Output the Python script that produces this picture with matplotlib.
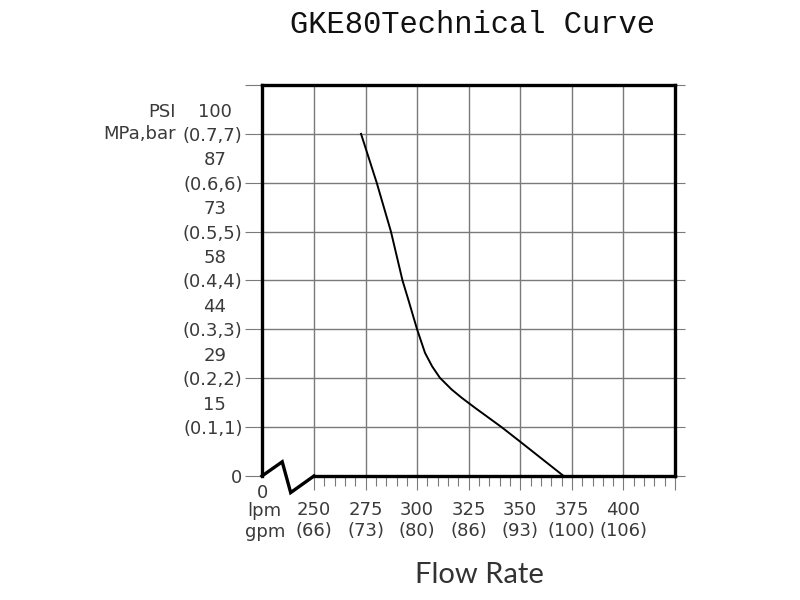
import matplotlib.pyplot as plt
from matplotlib.ticker import FixedLocator

# curve (lpm, bar)
flow_lpm = [272.8, 280.4, 287.3, 292.9, 295.7, 299.9, 303.8, 307.3, 311.0, 316.7, 321.6, 328.2, 340.9, 350.0, 371.0]
pressure_bar = [7.0, 6.0, 5.0, 4.0, 3.61, 3.01, 2.52, 2.24, 2.01, 1.77, 1.60, 1.39, 1.0, 0.70, 0.0]

# axis labels
x_ticks = [250, 275, 300, 325, 350, 375, 400]
gpm_labels = ['66', '73', '80', '86', '93', '100', '106']
y_ticks = [0, 1, 2, 3, 4, 5, 6, 7]
bar_labels = ['0', '(0.1,1)', '(0.2,2)', '(0.3,3)', '(0.4,4)', '(0.5,5)', '(0.6,6)', '(0.7,7)']
psi_labels = ['', '15', '29', '44', '58', '73', '87', '100']

x_left, x_right = 224.8, 425
break_x = [224.8, 234.6, 238.7, 250]
break_y = [0, 0.29, -0.34, 0]

txt = '#3a3a3a'
grid_c = '#7a7a7a'

fig = plt.figure(figsize=(8, 6), dpi=100)
ax = fig.add_axes([0.3275, 0.2067, 0.5163, 0.6517])
ax.set_xlim(x_left, x_right)
ax.set_ylim(0, 8)

# grid
for x in x_ticks + [425]:
    ax.plot([x, x], [0, 8], color=grid_c, lw=1.0, zorder=1)
for y in range(1, 9):
    ax.plot([x_left, x_right], [y, y], color=grid_c, lw=1.0, zorder=1)

# curve
ax.plot(flow_lpm, pressure_bar, color='black', lw=1.4, zorder=3)

# frame with broken x axis
for s in ['left', 'right', 'top', 'bottom']:
    ax.spines[s].set_linewidth(2.4)
    ax.spines[s].set_zorder(4)
ax.spines['bottom'].set_bounds(250, 425)
ax.plot(break_x, break_y, color='black', lw=2.4, clip_on=False,
        solid_joinstyle='miter', zorder=4)

# ticks
ax.set_xticks(x_ticks + [425])
ax.set_xticklabels([f'{a}\n({b})' for a, b in zip(x_ticks, gpm_labels)] + [''])
ax.xaxis.set_minor_locator(FixedLocator(list(range(250, 430, 5))))
ax.tick_params(axis='x', which='major', length=10, width=0.8, color=grid_c,
               labelsize=13, labelcolor=txt, pad=8)
ax.tick_params(axis='x', which='minor', length=7, width=0.8, color=grid_c)

ax.set_yticks(y_ticks + [8])
ax.set_yticklabels(bar_labels + [''])
ax.tick_params(axis='y', which='major', length=12, width=0.8, color=grid_c,
               labelsize=13, labelcolor=txt, pad=2, right=True)
for t in ax.yaxis.get_major_ticks():
    t.tick2line.set_markersize(7.5)

# PSI values above each bar label
for y, lab in zip(y_ticks, psi_labels):
    if lab:
        ax.annotate(lab, xy=(0, y), xycoords=('axes fraction', 'data'),
                    xytext=(-34, 16), textcoords='offset points',
                    ha='center', va='center', fontsize=13, color=txt)
ax.annotate('PSI', xy=(0, 7), xycoords=('axes fraction', 'data'),
            xytext=(-62, 16), textcoords='offset points',
            ha='right', va='center', fontsize=13, color=txt)
ax.annotate('MPa,bar', xy=(0, 7), xycoords=('axes fraction', 'data'),
            xytext=(-62, 0), textcoords='offset points',
            ha='right', va='center', fontsize=13, color=txt)

# x-axis unit labels
ax.annotate('0', xy=(x_left, 0), xycoords=('data', 'axes fraction'),
            xytext=(0, -12), textcoords='offset points',
            ha='center', va='center', fontsize=13, color=txt)
ax.annotate('lpm\ngpm', xy=(x_left, 0), xycoords=('data', 'axes fraction'),
            xytext=(2, -19), textcoords='offset points',
            ha='center', va='top', fontsize=13, color=txt)

fig.text(0.59, 0.958, 'GKE80Technical Curve', ha='center', va='center',
         fontsize=22, family='Liberation Mono', color='#111111')
fig.text(0.599, 0.042, 'Flow Rate', ha='center', va='center',
         fontsize=21, family='Lato', color='#333333')

fig.savefig('out.png', dpi=100)
